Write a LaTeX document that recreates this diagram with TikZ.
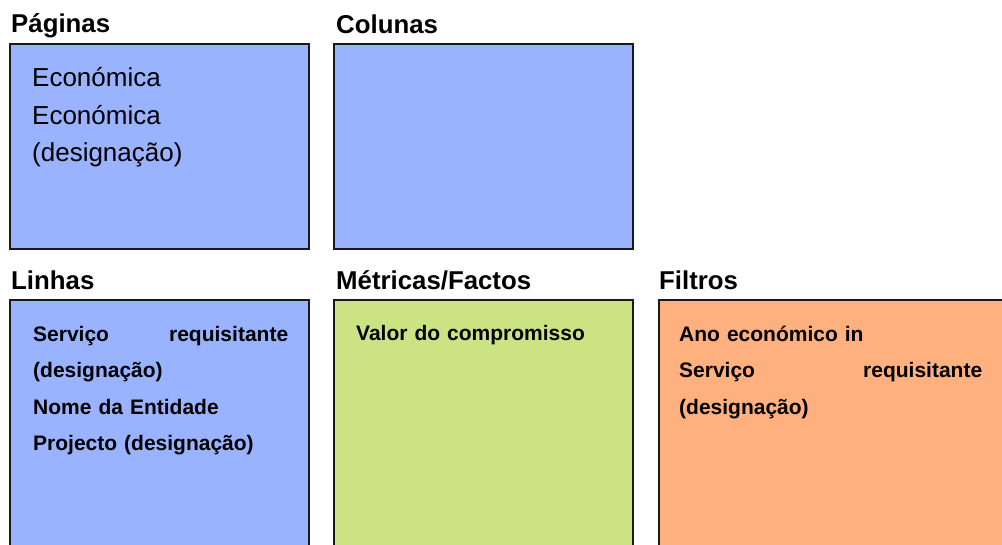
\documentclass[tikz,border=0pt]{standalone}
\usepackage{fontspec}
\setmainfont{Liberation Sans}
\definecolor{boxblue}{RGB}{153,179,255}
\definecolor{boxgreen}{RGB}{204,227,132}
\definecolor{boxorange}{RGB}{255,176,127}
\definecolor{edge}{RGB}{25,25,25}
\begin{document}
\begin{tikzpicture}[x=1pt,y=-1pt,
  panel/.style={draw=edge,line width=1.3pt},
  ttl/.style={anchor=base west,inner sep=0pt,font=\bfseries\fontsize{25.8}{30}\selectfont},
  plain/.style={anchor=base west,inner sep=0pt,align=left,text width=260pt,font=\fontsize{26}{37.5}\selectfont},
  bodyb/.style={anchor=base west,inner sep=0pt,align=left,font=\bfseries\fontsize{21}{36.5}\selectfont}]
\useasboundingbox (0,0) rectangle (1002,544);
\clip (0,0) rectangle (1002,544);
% panels
\draw[panel,fill=boxblue] (10,44) rectangle (309,249);
\draw[panel,fill=boxblue] (334,44) rectangle (633,249);
\draw[panel,fill=boxblue] (10,300) rectangle (309,570);
\draw[panel,fill=boxgreen] (334,300) rectangle (633,570);
\draw[panel,fill=boxorange] (659,300) rectangle (1030,570);
% titles
\node[ttl] (tpag) at (11,32) {Páginas};
\node[ttl] (tcol) at (336,33) {Colunas};
\node[ttl] (tlin) at (11,289) {Linhas};
\node[ttl] (tmet) at (336,289) {Métricas/Factos};
\node[ttl] (tfil) at (659,289) {Filtros};
% contents
\node[plain] (cpag) at (32,86.5) {Económica\\Económica\\(designação)};
\node[bodyb,text width=255pt] (clin) at (33,341) {Serviço\hskip 0pt plus 1filll requisitante\\(designação)\\Nome da Entidade\\Projecto (designação)};
\node[bodyb,text width=260pt] (cmet) at (356,340) {Valor do compromisso};
\node[bodyb,text width=303pt] (cfil) at (679,341) {Ano económico in\\Serviço\hskip 0pt plus 1filll requisitante\\(designação)};
\end{tikzpicture}
\end{document}
